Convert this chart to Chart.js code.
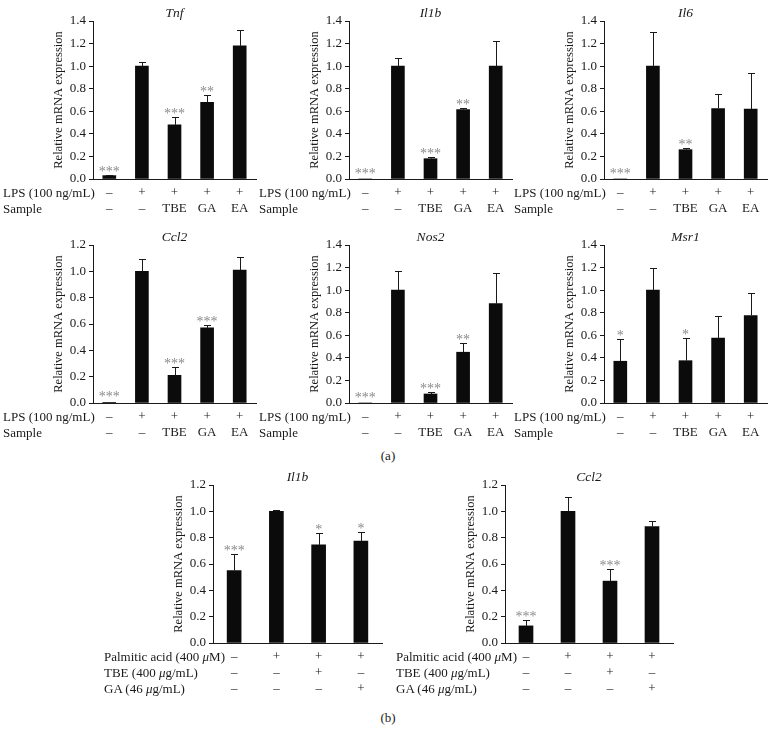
<!DOCTYPE html>
<html>
<head>
<meta charset="utf-8">
<script src="https://cdn.jsdelivr.net/npm/chart.js@4.4.1/dist/chart.umd.min.js"></script>
<style>
  body { margin: 0; width: 776px; height: 740px; position: relative; overflow: hidden; background: #fff;
         font-family: "Liberation Serif", "DejaVu Serif", serif; color: #1a1a1a; }
  canvas { position: absolute; }
  .rowhead { position: absolute; font-size: 13px; line-height: 16px; white-space: nowrap; }
  .tag { position: absolute; width: 40px; text-align: center; font-size: 13px; color: #1a1a1a; }
</style>
</head>
<body>

<div class="tag" style="left:368px; top:448px;">(a)</div>
<div class="tag" style="left:368px; top:710px;">(b)</div>

<script>
// condition rows (a)
const lpsRow    = ['–', '+', '+', '+', '+'];
const sampleRow = ['–', '–', 'TBE', 'GA', 'EA'];
// condition rows (b)
const paRow  = ['–', '+', '+', '+'];
const tbeRow = ['–', '–', '+', '–'];
const gaRow  = ['–', '–', '–', '+'];

// (a) RAW264.7 + LPS — mean, upper error, significance
const tnfMean  = [0.03, 1.00, 0.48, 0.68, 1.18];
const tnfErr   = [0.005, 0.04, 0.065, 0.06, 0.14];
const tnfSig   = ['***', '', '***', '**', ''];

const il1bMean = [0.00, 1.00, 0.18, 0.615, 1.00];
const il1bErr  = [0, 0.075, 0.015, 0.015, 0.22];
const il1bSig  = ['***', '', '***', '**', ''];

const il6Mean  = [0.00, 1.00, 0.26, 0.625, 0.62];
const il6Err   = [0, 0.30, 0.015, 0.125, 0.32];
const il6Sig   = ['***', '', '**', '', ''];

const ccl2Mean = [0.005, 1.00, 0.21, 0.57, 1.01];
const ccl2Err  = [0, 0.09, 0.06, 0.025, 0.10];
const ccl2Sig  = ['***', '', '***', '***', ''];

const nos2Mean = [0.00, 1.00, 0.08, 0.45, 0.88];
const nos2Err  = [0, 0.17, 0.015, 0.085, 0.27];
const nos2Sig  = ['***', '', '***', '**', ''];

const msr1Mean = [0.37, 1.00, 0.375, 0.575, 0.775];
const msr1Err  = [0.20, 0.20, 0.20, 0.20, 0.20];
const msr1Sig  = ['*', '', '*', '', ''];

// (b) palmitic acid
const bIl1bMean = [0.55, 1.00, 0.745, 0.775];
const bIl1bErr  = [0.125, 0.01, 0.09, 0.065];
const bIl1bSig  = ['***', '', '*', '*'];

const bCcl2Mean = [0.13, 1.00, 0.47, 0.885];
const bCcl2Err  = [0.045, 0.11, 0.09, 0.045];
const bCcl2Sig  = ['***', '', '***', ''];

const aLabels = lpsRow.map((v, i) => [v, sampleRow[i]]);
const bLabels = paRow.map((v, i) => [v, tbeRow[i], gaRow[i]]);
const aHeads = ['LPS (100 ng/mL)', 'Sample'];
const bHeads = ['Palmitic acid (400 <i>μ</i>M)', 'TBE (400 <i>μ</i>g/mL)', 'GA (46 <i>μ</i>g/mL)'];

const FONT = '"Liberation Serif", "DejaVu Serif", serif';
const INK = '#1a1a1a';
const PLOT_H = 158, PAD_TOP = 24, Y_W = 60, PAD_R = 8;

const panels = [
    { title: 'Tnf',  mean: tnfMean,  err: tnfErr,  sig: tnfSig,  labels: aLabels, heads: aHeads, max: 1.4, axisX: 93,  right: 256, top: 21,  headDx: 2, bar: 13 },
    { title: 'Il1b', mean: il1bMean, err: il1bErr, sig: il1bSig, labels: aLabels, heads: aHeads, max: 1.4, axisX: 349, right: 512, top: 21,  headDx: 2, bar: 13 },
    { title: 'Il6',  mean: il6Mean,  err: il6Err,  sig: il6Sig,  labels: aLabels, heads: aHeads, max: 1.4, axisX: 604, right: 767, top: 21,  headDx: 2, bar: 13 },
    { title: 'Ccl2', mean: ccl2Mean, err: ccl2Err, sig: ccl2Sig, labels: aLabels, heads: aHeads, max: 1.2, axisX: 93,  right: 256, top: 245, headDx: 2, bar: 13 },
    { title: 'Nos2', mean: nos2Mean, err: nos2Err, sig: nos2Sig, labels: aLabels, heads: aHeads, max: 1.4, axisX: 349, right: 512, top: 245, headDx: 2, bar: 13 },
    { title: 'Msr1', mean: msr1Mean, err: msr1Err, sig: msr1Sig, labels: aLabels, heads: aHeads, max: 1.4, axisX: 604, right: 767, top: 245, headDx: 2, bar: 13 },
    { title: 'Il1b', mean: bIl1bMean, err: bIl1bErr, sig: bIl1bSig, labels: bLabels, heads: bHeads, max: 1.2, axisX: 213, right: 382, top: 485, headDx: 12, bar: 14 },
    { title: 'Ccl2', mean: bCcl2Mean, err: bCcl2Err, sig: bCcl2Sig, labels: bLabels, heads: bHeads, max: 1.2, axisX: 505, right: 673, top: 485, headDx: 12, bar: 14 }
];

// error bars, significance stars and gene title
function annotPlugin(p) {
    return {
        id: 'annot',
        afterDatasetsDraw(chart) {
            const ctx = chart.ctx, y = chart.scales.y, area = chart.chartArea;
            const meta = chart.getDatasetMeta(0);
            ctx.save();
            ctx.strokeStyle = INK;
            ctx.lineWidth = 1;
            meta.data.forEach((bar, i) => {
                const x = Math.round(bar.x) + 0.5;
                const yb = y.getPixelForValue(p.mean[i]);
                const yt = y.getPixelForValue(p.mean[i] + p.err[i]);
                if (p.err[i] > 0) {
                    ctx.beginPath();
                    ctx.moveTo(x, yb);
                    ctx.lineTo(x, Math.round(yt) + 0.5);
                    ctx.moveTo(x - 3.5, Math.round(yt) + 0.5);
                    ctx.lineTo(x + 3.5, Math.round(yt) + 0.5);
                    ctx.stroke();
                }
                if (p.sig[i]) {
                    ctx.fillStyle = '#8a8a8a';
                    ctx.font = '14px ' + FONT;
                    ctx.textAlign = 'center';
                    ctx.textBaseline = 'alphabetic';
                    ctx.fillText(p.sig[i], bar.x, yt + (p.err[i] > 0 ? 1 : -1));
                }
            });
            ctx.fillStyle = INK;
            ctx.font = 'italic 13.5px ' + FONT;
            ctx.textAlign = 'center';
            ctx.textBaseline = 'middle';
            ctx.fillText(p.title, (area.left + area.right) / 2, area.top - 8);
            ctx.restore();
        }
    };
}

panels.forEach(p => {
    const rows = p.labels[0].length;
    const xh = rows * 16 + 8;
    const canvas = document.createElement('canvas');
    canvas.width = Y_W + (p.right - p.axisX) + PAD_R;
    canvas.height = PAD_TOP + PLOT_H + xh;
    canvas.style.left = (p.axisX - Y_W) + 'px';
    canvas.style.top = (p.top - PAD_TOP) + 'px';
    document.body.appendChild(canvas);

    new Chart(canvas, {
        type: 'bar',
        data: {
            labels: p.labels,
            datasets: [{
                data: p.mean,
                backgroundColor: '#0b0b0b',
                borderWidth: 0,
                barThickness: p.bar
            }]
        },
        options: {
            responsive: false,
            animation: false,
            layout: { padding: { top: PAD_TOP, right: PAD_R, left: 0, bottom: 0 } },
            plugins: { legend: { display: false }, tooltip: { enabled: false } },
            scales: {
                x: {
                    grid: { display: false, drawTicks: false },
                    border: { display: true, color: INK, width: 1 },
                    ticks: { color: INK, padding: 6, autoSkip: false, maxRotation: 0,
                             font: { family: FONT, size: 13, lineHeight: '16px' } },
                    afterFit: s => { s.height = xh; }
                },
                y: {
                    min: 0,
                    max: p.max,
                    ticks: { stepSize: 0.2, padding: 3, color: INK,
                             callback: v => v.toFixed(1),
                             font: { family: FONT, size: 13 } },
                    grid: { drawOnChartArea: false, drawTicks: true, tickLength: 4, color: INK },
                    border: { display: true, color: INK, width: 1 },
                    title: { display: true, text: 'Relative mRNA expression', color: INK,
                             font: { family: FONT, size: 12.5 }, padding: { top: 18, bottom: 0 } },
                    afterFit: s => { s.width = Y_W; }
                }
            }
        },
        plugins: [annotPlugin(p)]
    });

    // row headers, right edge anchored near the y axis
    const head = document.createElement('div');
    head.className = 'rowhead';
    head.innerHTML = p.heads.join('<br>');
    head.style.top = (p.top + PLOT_H + 6) + 'px';
    document.body.appendChild(head);
    head.style.left = (p.axisX + p.headDx - head.offsetWidth) + 'px';
});
</script>
</body>
</html>
